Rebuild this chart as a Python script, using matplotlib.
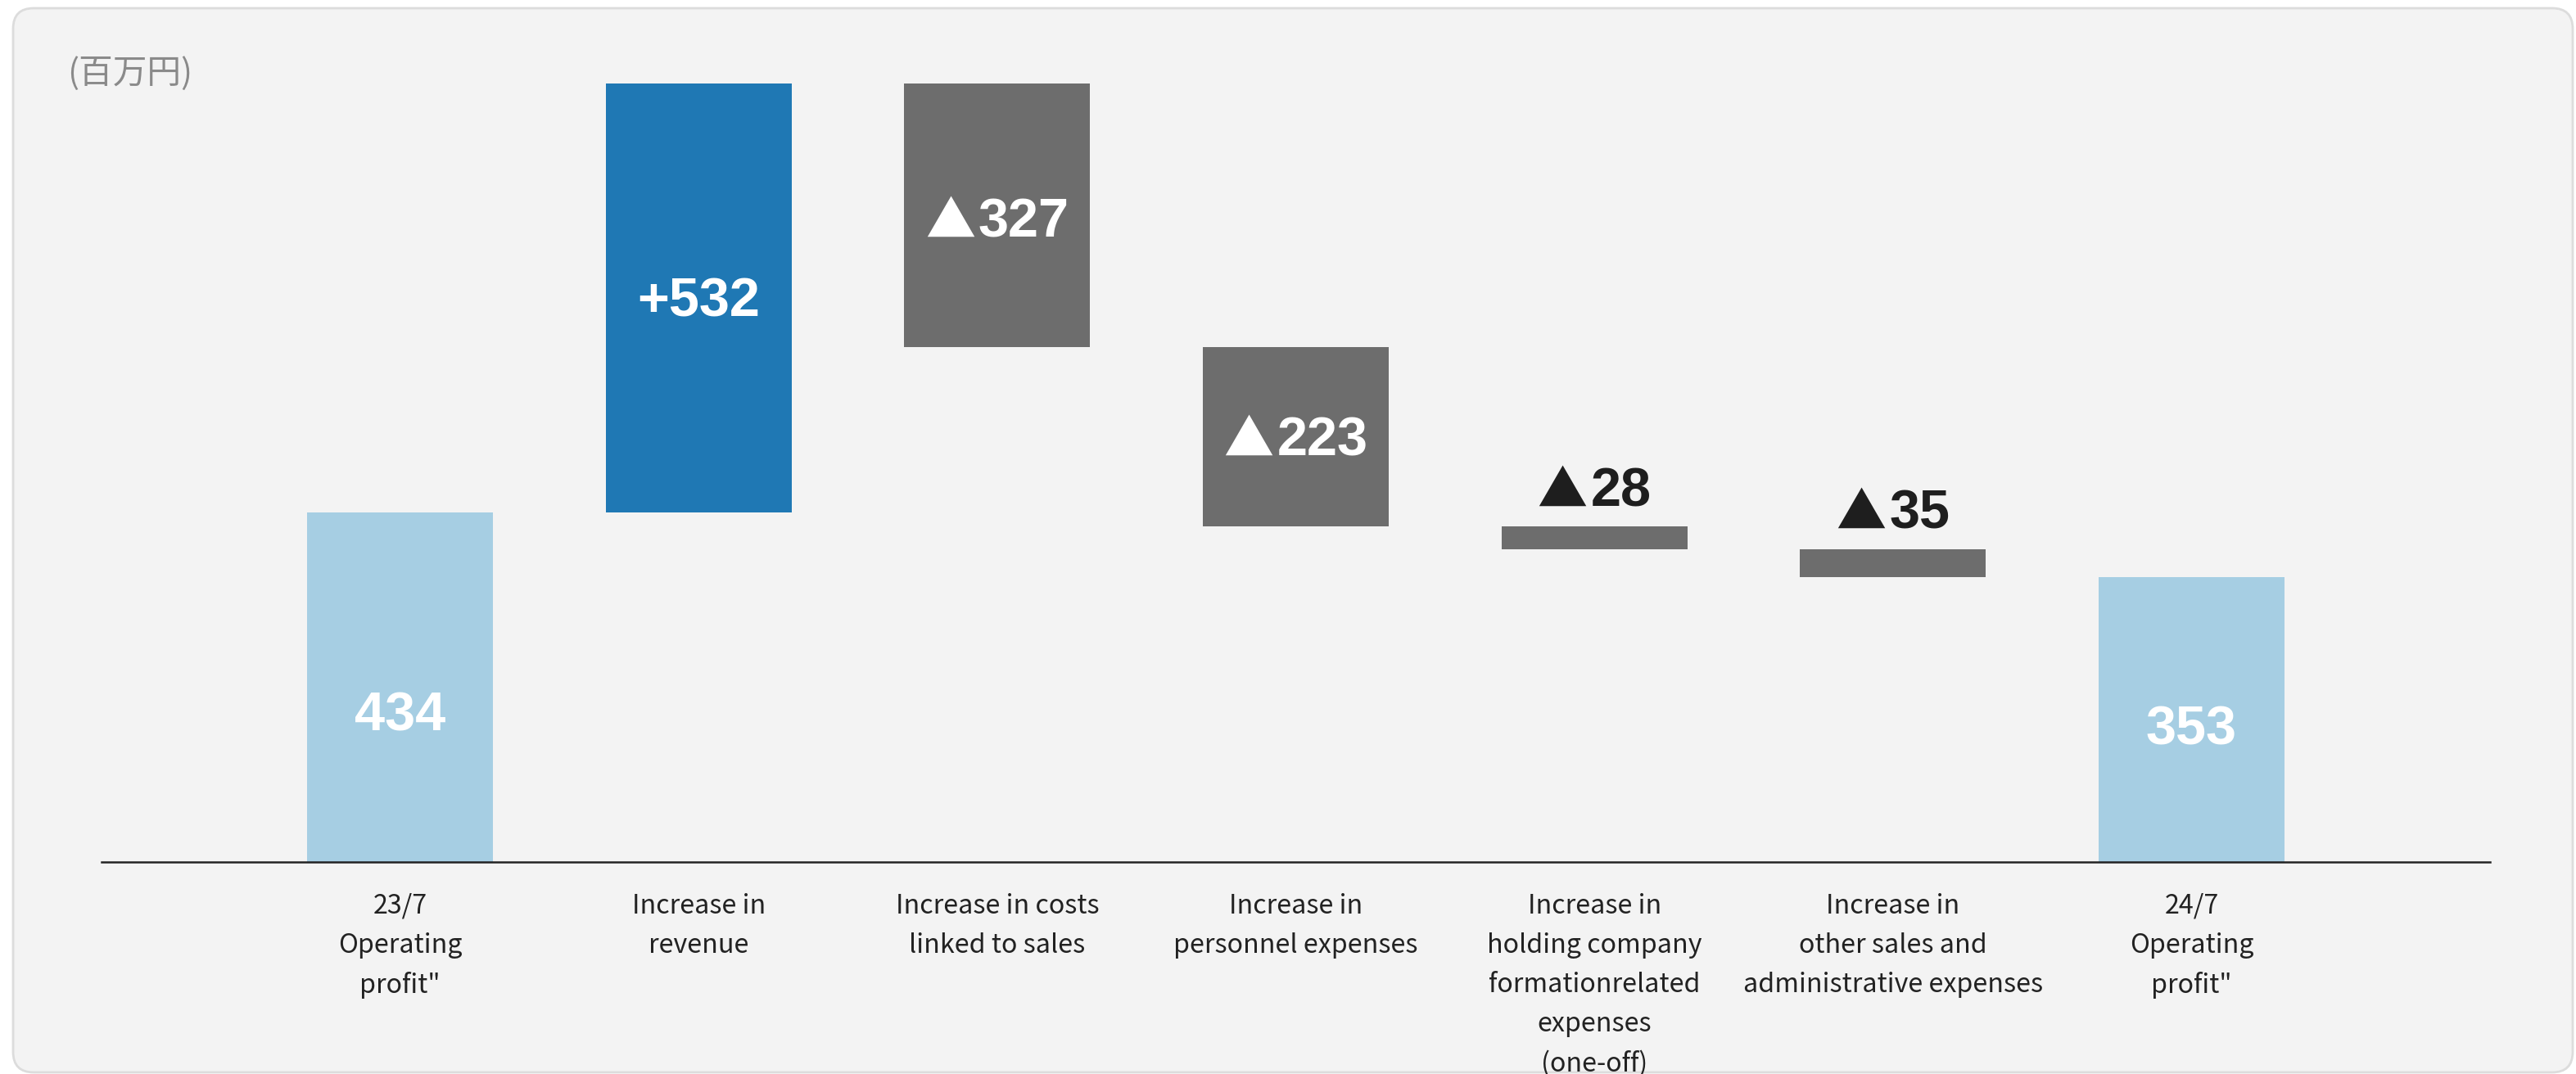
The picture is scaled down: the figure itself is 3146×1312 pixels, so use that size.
"""
Operating profit bridge: 23/7 -> 24/7 (millions of yen).
"""

import matplotlib.pyplot as plt
from matplotlib.patches import FancyBboxPatch
from matplotlib.offsetbox import TextArea, HPacker, AnnotationBbox
import numpy as np

# Bridge data
categories = [
    "23/7\nOperating\nprofit\"",
    "Increase in\nrevenue",
    "Increase in costs\nlinked to sales",
    "Increase in\npersonnel expenses",
    "Increase in\nholding company\nformationrelated\nexpenses\n(one-off)",
    "Increase in\nother sales and\nadministrative expenses",
    "24/7\nOperating\nprofit\"",
]
values = [434, 532, -327, -223, -28, -35, 353]
is_total = [True, False, False, False, False, False, True]
unit_label = "(百万円)"

# where the in-bar label sits, as a fraction of bar height from the bottom
label_frac = [0.43, 0.5, 0.49, 0.5, 0.5, 0.5, 0.48]

COLOR_TOTAL = '#a6cee3'
COLOR_UP = '#1f78b4'
COLOR_DOWN = '#6d6d6d'
PANEL_BG = '#f3f3f3'

W, H, DPI = 3146, 1312, 200
fig = plt.figure(figsize=(W / DPI, H / DPI), dpi=DPI, facecolor='white')

# Rounded background panel, kept behind the axes
panel = FancyBboxPatch((16 / W, 1 - 1310 / H), (3142 - 16) / W, (1310 - 10) / H,
                       boxstyle="round,pad=0,rounding_size=0.008",
                       transform=fig.transFigure, facecolor=PANEL_BG,
                       edgecolor='#dcdcdc', linewidth=1.0, zorder=-5,
                       mutation_aspect=W / H)
fig.patches.append(panel)

ax = fig.add_axes([124 / W, 1 - 1053 / H, (3041 - 124) / W, 984.6 / H])
ax.set_facecolor('none')
ax.set_zorder(2)

# Waterfall bottoms / heights
x = np.arange(len(values))
bottoms, heights, colors = [], [], []
running = 0
for v, total in zip(values, is_total):
    if total:
        bottoms.append(0)
        heights.append(v)
        colors.append(COLOR_TOTAL)
        running = v
    else:
        bottoms.append(running if v >= 0 else running + v)
        heights.append(abs(v))
        colors.append(COLOR_UP if v >= 0 else COLOR_DOWN)
        running += v

ax.bar(x, heights, bottom=bottoms, width=0.622, color=colors, zorder=2)


def value_label(v, total, color):
    """Packed label: optional triangle (CJK font) + number (Arial-like bold)."""
    num_props = dict(color=color, fontsize=24, fontweight='bold',
                     family=['Liberation Sans', 'DejaVu Sans'])
    tri_props = dict(color=color, fontsize=22, fontweight='bold',
                     family=['Noto Sans CJK JP', 'DejaVu Sans'])
    if total:
        parts = [TextArea(f"{v}", textprops=num_props)]
    elif v >= 0:
        parts = [TextArea(f"+{v}", textprops=num_props)]
    else:
        parts = [TextArea("▲", textprops=tri_props),
                 TextArea(f"{-v}", textprops=num_props)]
    return HPacker(children=parts, align='baseline', pad=0, sep=1.5)


for xi, b, h, v, total, frac in zip(x, bottoms, heights, values, is_total, label_frac):
    if h >= 100:
        box = value_label(v, total, 'white')
        ab = AnnotationBbox(box, (xi, b + h * frac), xybox=(0, -2.2),
                            xycoords='data', boxcoords='offset points',
                            box_alignment=(0.5, 0.5), frameon=False, zorder=3)
    else:
        box = value_label(v, total, '#1e1e1e')
        ab = AnnotationBbox(box, (xi, b + h), xybox=(0, 4),
                            xycoords='data', boxcoords='offset points',
                            box_alignment=(0.5, 0), frameon=False, zorder=3)
    ax.add_artist(ab)

ax.set_xlim(-1, 7)
ax.set_ylim(0, 1000)
ax.set_yticks([])
ax.set_xticks(x)
ax.set_xticklabels(categories, fontsize=11.6, color='#222222',
                   family=['Noto Sans CJK JP', 'DejaVu Sans'], linespacing=1.64)
ax.tick_params(axis='x', length=0, pad=13.6)
for side in ('top', 'left', 'right'):
    ax.spines[side].set_visible(False)
ax.spines['bottom'].set_color('#222222')
ax.spines['bottom'].set_linewidth(0.9)

fig.text(82 / W, 1 - 90 / H, unit_label, ha='left', va='center',
         fontsize=15, color='#8a8a8a', family=['Noto Sans CJK JP', 'DejaVu Sans'])

fig.savefig('out.png', dpi=DPI, facecolor=fig.get_facecolor())
